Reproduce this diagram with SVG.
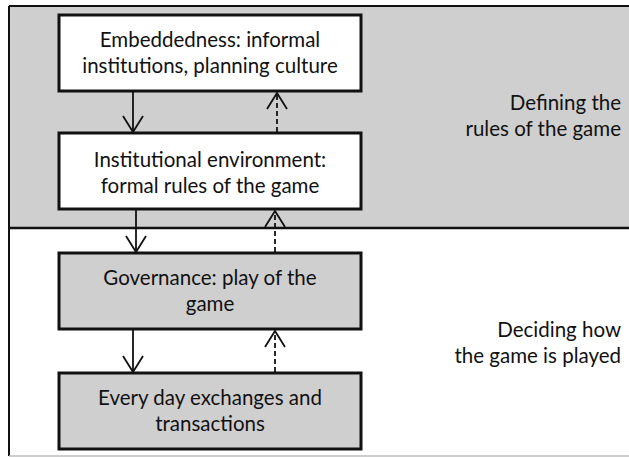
<svg xmlns="http://www.w3.org/2000/svg" width="629" height="457" viewBox="0 0 629 457">
  <style>
    .lbl { font-family: Lato, "Open Sans", "Liberation Sans", sans-serif; font-size: 20.5px; fill: #111; }
    .mid { text-anchor: middle; }
    .end { text-anchor: end; }
    .box { stroke: #111; stroke-width: 3; }
    .white { fill: #ffffff; }
    .grey { fill: #cfcfcf; }
    .flow { stroke: #111; stroke-width: 1.8; fill: none; }
    .dash { stroke-dasharray: 5 3; }
  </style>
  <defs>
    <marker id="vhead" viewBox="0 0 20 22" refX="17" refY="11" markerWidth="20" markerHeight="22" markerUnits="userSpaceOnUse" orient="auto">
      <path d="M1 1 L17 11 L1 21" fill="none" stroke="#111" stroke-width="1.8"/>
    </marker>
  </defs>

  <!-- background panels -->
  <rect x="0" y="0" width="629" height="457" fill="#ffffff"/>
  <rect x="9" y="6" width="620" height="222" fill="#cfcfcf"/>
  <g id="frame">
    <line x1="9" y1="6" x2="629" y2="6" stroke="#111" stroke-width="2"/>
    <line x1="9" y1="6" x2="9" y2="456" stroke="#111" stroke-width="2"/>
    <line x1="9" y1="228" x2="629" y2="228" stroke="#111" stroke-width="2.5"/>
    <line x1="9" y1="456" x2="629" y2="456" stroke="#bdbdbd" stroke-width="1.5"/>
  </g>

  <g id="embeddedness">
    <rect class="box white" x="59" y="15" width="302" height="76"/>
    <text class="lbl mid" x="210" y="47">Embeddedness: informal</text>
    <text class="lbl mid" x="210" y="73">institutions, planning culture</text>
  </g>

  <g id="institutional-environment">
    <rect class="box white" x="59" y="133" width="302" height="76"/>
    <text class="lbl mid" x="210" y="167">Institutional environment:</text>
    <text class="lbl mid" x="210" y="193">formal rules of the game</text>
  </g>

  <g id="governance">
    <rect class="box grey" x="59" y="253" width="302" height="76"/>
    <text class="lbl mid" x="210" y="285">Governance: play of the</text>
    <text class="lbl mid" x="210" y="311">game</text>
  </g>

  <g id="exchanges">
    <rect class="box grey" x="59" y="373" width="302" height="76"/>
    <text class="lbl mid" x="210" y="405">Every day exchanges and</text>
    <text class="lbl mid" x="210" y="431">transactions</text>
  </g>

  <g id="level-labels">
    <text class="lbl end" x="621" y="110">Defining the</text>
    <text class="lbl end" x="621" y="136">rules of the game</text>
    <text class="lbl end" x="621" y="337">Deciding how</text>
    <text class="lbl end" x="621" y="363">the game is played</text>
  </g>

  <g id="connectors">
    <line class="flow" x1="133" y1="92" x2="133" y2="132" marker-end="url(#vhead)"/>
    <line class="flow" x1="136" y1="210" x2="136" y2="252" marker-end="url(#vhead)"/>
    <line class="flow" x1="133" y1="330" x2="133" y2="372" marker-end="url(#vhead)"/>
    <line class="flow dash" x1="277" y1="132" x2="277" y2="93" marker-end="url(#vhead)"/>
    <line class="flow dash" x1="275" y1="252" x2="275" y2="211" marker-end="url(#vhead)"/>
    <line class="flow dash" x1="275" y1="372" x2="275" y2="331" marker-end="url(#vhead)"/>
  </g>
</svg>
